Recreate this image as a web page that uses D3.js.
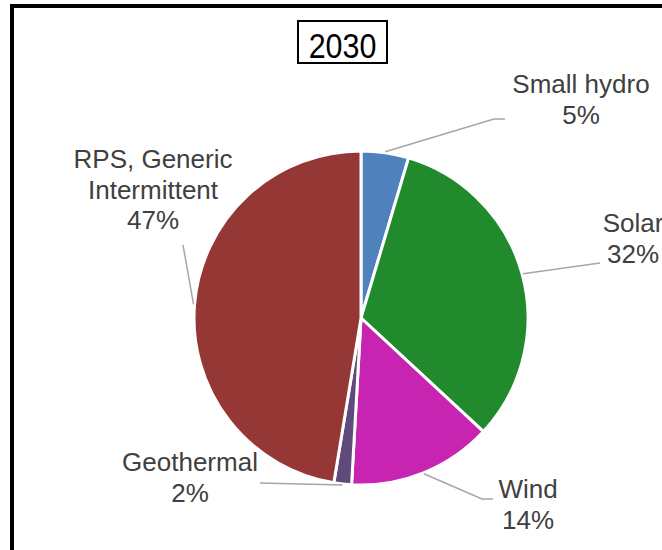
<!DOCTYPE html>
<html>
<head>
<meta charset="utf-8">
<script src="https://cdn.jsdelivr.net/npm/d3@7"></script>
<style>
  body { margin: 0; background: #fff; }
  text { font-family: "Liberation Sans", Arial, sans-serif; }
</style>
</head>
<body>
<svg id="chart" width="662" height="550"></svg>
<script>
// Data
const categories = ["Small hydro", "Solar", "Wind", "Geothermal", "RPS, Generic Intermittent"];
const shares = [4.6, 32.3, 14.0, 1.7, 47.4];
const colors = ["#4f81bd", "#218a2c", "#c724b1", "#604a7b", "#953735"];
const title = "2030";

// label layout: text centre, first baseline, lines of the name, leader path end
const labelLayout = [
  {cx: 581, y: 93,  lines: ["Small hydro"], leader: [[494, 119], [505, 119]]},
  {cx: 633, y: 232, lines: ["Solar"], leader: [[600, 263]]},
  {cx: 528, y: 498, lines: ["Wind"], leader: [[482, 499], [493, 499]]},
  {cx: 190, y: 471, lines: ["Geothermal"], leader: [[260, 483]]},
  {cx: 153, y: 168, lines: ["RPS, Generic", "Intermittent"], leader: [[183, 245]]}
];

const svg = d3.select("#chart");
const width = +svg.attr("width");
const height = +svg.attr("height");

// Outer frame (right and bottom edges run off the picture)
svg.append("rect")
  .attr("x", 12).attr("y", 6)
  .attr("width", width + 20).attr("height", height + 20)
  .attr("fill", "none")
  .attr("stroke", "#000")
  .attr("stroke-width", 4);

// Title box
const tg = svg.append("g");
tg.append("rect")
  .attr("x", 298).attr("y", 21)
  .attr("width", 89).attr("height", 42)
  .attr("fill", "#fff")
  .attr("stroke", "#000")
  .attr("stroke-width", 2);
// title glyphs are tall and narrow in the original
tg.append("text")
  .attr("transform", "translate(342.5,58) scale(0.87,1)")
  .attr("text-anchor", "middle")
  .attr("font-size", 35)
  .attr("fill", "#000")
  .text(title);

// Pie
const cx = 361, cy = 318, r = 167;
const pie = d3.pie().sort(null).value(d => d)(shares);
const arc = d3.arc().innerRadius(0).outerRadius(r);
const leaderArc = d3.arc().innerRadius(168).outerRadius(168);

const g = svg.append("g").attr("transform", `translate(${cx},${cy})`);

g.selectAll("path.slice")
  .data(pie)
  .join("path")
    .attr("class", "slice")
    .attr("d", arc)
    .attr("fill", (d, i) => colors[i])
    .attr("stroke", "#fff")
    .attr("stroke-width", 3)
    .attr("stroke-linejoin", "round");

// Leader lines
const line = d3.line();
svg.selectAll("path.leader")
  .data(pie)
  .join("path")
    .attr("class", "leader")
    .attr("d", (d, i) => {
      const [sx, sy] = leaderArc.centroid(d);
      return line([[cx + sx, cy + sy], ...labelLayout[i].leader]);
    })
    .attr("fill", "none")
    .attr("stroke", "#a6a6a6")
    .attr("stroke-width", 1.5);

// Labels
const lh = 30.5;
const labels = svg.selectAll("text.label")
  .data(pie)
  .join("text")
    .attr("class", "label")
    .attr("text-anchor", "middle")
    .attr("font-size", 26)
    .attr("fill", "#404040");

labels.each(function(d, i) {
  const L = labelLayout[i];
  const t = d3.select(this);
  const rows = [...L.lines, Math.round(shares[i]) + "%"];
  rows.forEach((s, k) => {
    t.append("tspan")
      .attr("x", L.cx)
      .attr("y", L.y + k * lh)
      .text(s);
  });
});
</script>
</body>
</html>
